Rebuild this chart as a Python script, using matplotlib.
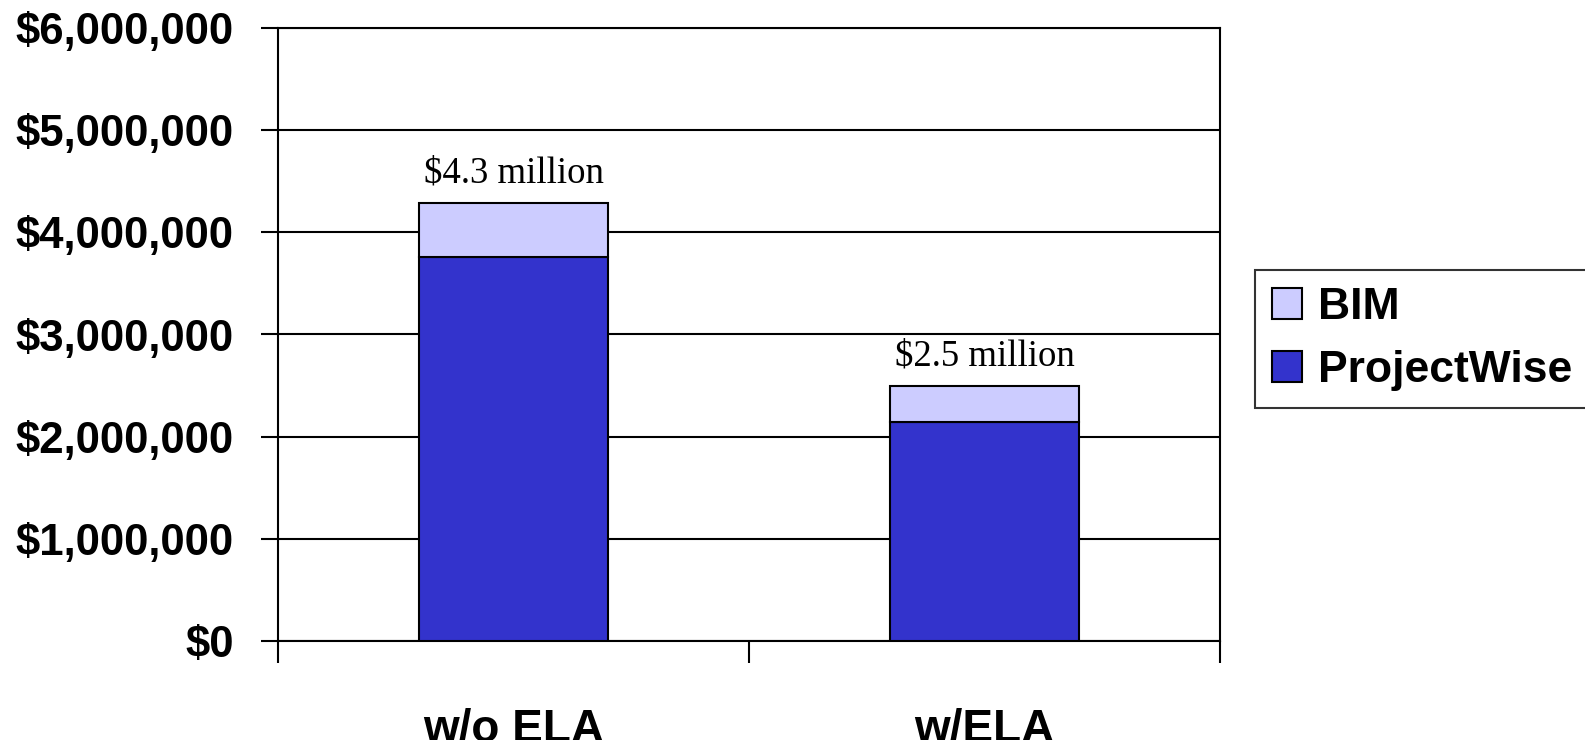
import matplotlib
matplotlib.use("Agg")
import matplotlib.pyplot as plt
from matplotlib.ticker import FuncFormatter, FixedLocator

categories = ["w/o ELA", "w/ELA"]
projectwise = [3760000, 2140000]
bim = [530000, 360000]
totals_labels = ["$4.3 million", "$2.5 million"]
yticks = [0, 1000000, 2000000, 3000000, 4000000, 5000000, 6000000]

pw_color = "#3333CC"
bim_color = "#CCCCFF"

fig = plt.figure(figsize=(15.85, 7.4), dpi=100)
ax = fig.add_axes([278/1585, 1 - 641/740, (1220-278)/1585, (641-28)/740])

x = list(range(len(categories)))
ax.bar(x, projectwise, width=0.4, color=pw_color, edgecolor="black", linewidth=1.5,
       label="ProjectWise", zorder=3)
ax.bar(x, bim, width=0.4, bottom=projectwise, color=bim_color, edgecolor="black",
       linewidth=1.5, label="BIM", zorder=3)

for xi, p, b, lab in zip(x, projectwise, bim, totals_labels):
    ax.annotate(lab, (xi, p + b), xytext=(0, 9), textcoords="offset points",
                ha="center", va="bottom", fontsize=26.5, family="Liberation Serif")

ax.set_xlim(-0.5, len(categories) - 0.5)
ax.set_ylim(0, 6000000)
ax.set_yticks(yticks)
ax.yaxis.set_major_formatter(FuncFormatter(lambda v, p: "${:,.0f}".format(v)))
ax.grid(axis="y", color="black", linewidth=1.5, zorder=0)
ax.set_axisbelow(True)

ax.xaxis.set_major_locator(FixedLocator([-0.5 + i for i in range(len(categories) + 1)]))
ax.xaxis.set_major_formatter(FuncFormatter(lambda v, p: ""))
ax.xaxis.set_minor_locator(FixedLocator(x))
ax.set_xticklabels(categories, minor=True)
ax.tick_params(axis="x", which="major", length=16, width=1.5, direction="out")
ax.tick_params(axis="x", which="minor", length=0, pad=48)
ax.tick_params(axis="y", length=12, width=1.5, direction="out", pad=20)

for lab in ax.get_yticklabels():
    lab.set_fontfamily("Liberation Sans")
    lab.set_fontweight("bold")
    lab.set_fontsize(31.5)
for lab in ax.get_xticklabels(minor=True):
    lab.set_fontfamily("Liberation Sans")
    lab.set_fontweight("bold")
    lab.set_fontsize(33)

for s in ax.spines.values():
    s.set_linewidth(1.5)
    s.set_color("black")

handles, labels = ax.get_legend_handles_labels()
leg = fig.legend(handles[::-1], labels[::-1], loc="upper left",
                 bbox_to_anchor=(1255/1585, 1 - 270/740),
                 prop={"family": "Liberation Sans", "weight": "bold", "size": 32},
                 frameon=True, fancybox=False, edgecolor="black",
                 handlelength=0.68, handleheight=0.68, handletextpad=0.36,
                 borderpad=0.38, labelspacing=0.5, borderaxespad=0)
leg.get_frame().set_linewidth(1.5)

fig.savefig("out.png", dpi=100)
